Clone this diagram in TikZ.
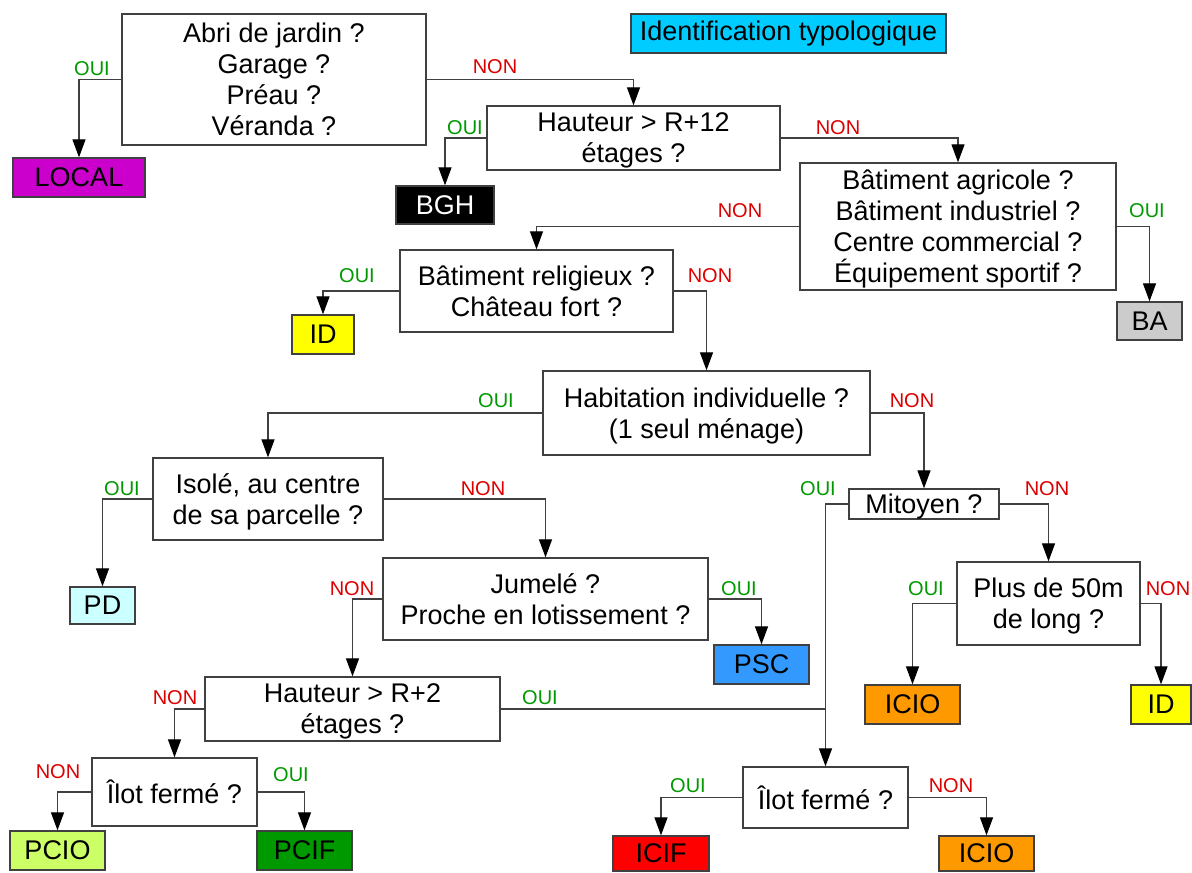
\documentclass[tikz,border=0pt]{standalone}
\usepackage{fontspec}
\setmainfont{Liberation Sans}
\usetikzlibrary{arrows.meta}
\definecolor{trait}{HTML}{404040}
\definecolor{vertoui}{HTML}{009900}
\definecolor{rougenon}{HTML}{DD0000}
\definecolor{magenta1}{HTML}{CC00CC}
\definecolor{cyan1}{HTML}{00CCFF}
\definecolor{gris1}{HTML}{CCCCCC}
\definecolor{jaune1}{HTML}{FFFF00}
\definecolor{bleuclair}{HTML}{CCFFFF}
\definecolor{bleu1}{HTML}{3399FF}
\definecolor{orange1}{HTML}{FF9900}
\definecolor{vertclair}{HTML}{CCFF66}
\definecolor{vertfonce}{HTML}{009900}
\definecolor{rouge1}{HTML}{FF0000}

\begin{document}
\begin{tikzpicture}[x=0.5pt,y=-0.5pt]
			\tikzset{
			  TailleStyle/.style 2 args = { minimum width = #1*0.5pt, minimum height = #2*0.5pt },
			  QuestionStyle/.style = { draw = trait, line width = 0.65pt, fill = white,
			                           align = center, inner sep = 0pt, text depth = 0pt,
			                           font = \fontsize{13.5}{15.5}\selectfont },
			  FeuilleStyle/.style = { draw = trait, line width = 0.65pt, inner sep = 0pt,
			                          font = \fontsize{13.5}{15.5}\selectfont },
			  OuiStyle/.style = { text = vertoui, inner sep = 0pt, font = \fontsize{10}{12}\selectfont },
			  NonStyle/.style = { text = rougenon, inner sep = 0pt, font = \fontsize{10}{12}\selectfont },
			  TraitStyle/.style = { draw = trait, line width = 0.6pt },
			  FlecheStyle/.style = { TraitStyle, -{Triangle[width=6.5pt,length=9pt,black]} } }
			\useasboundingbox (0,0) rectangle (1192,872);
			% questions
			\node[QuestionStyle, TailleStyle={304}{131}] (abri) at (274,79.5)
			  {Abri de jardin ?\\Garage ?\\Préau ?\\Véranda ?};
			\node[FeuilleStyle, TailleStyle={315}{39}, fill = cyan1] (titre) at (788.5,33.5)
			  {Identification typologique};
			\node[QuestionStyle, TailleStyle={293}{64}] (hauteur) at (633.5,138)
			  {Hauteur > R+12\\étages ?};
			\node[QuestionStyle, TailleStyle={316}{127}] (agricole) at (958,226.5)
			  {Bâtiment agricole ?\\Bâtiment industriel ?\\Centre commercial ?\\Équipement sportif ?};
			\node[QuestionStyle, TailleStyle={273}{82}] (religieux) at (536.5,291)
			  {Bâtiment religieux ?\\Château fort ?};
			\node[QuestionStyle, TailleStyle={327}{84}] (habitation) at (706.5,413)
			  {Habitation individuelle ?\\(1 seul ménage)};
			\node[QuestionStyle, TailleStyle={230}{82}] (isole) at (268,499)
			  {Isolé, au centre\\de sa parcelle ?};
			\node[QuestionStyle, TailleStyle={150}{30}] (mitoyen) at (924,504) {Mitoyen ?};
			\node[QuestionStyle, TailleStyle={325}{82}] (jumele) at (545.5,599)
			  {Jumelé ?\\Proche en lotissement ?};
			\node[QuestionStyle, TailleStyle={183}{83}] (long) at (1048.5,603.5)
			  {Plus de 50m\\de long ?};
			\node[QuestionStyle, TailleStyle={295}{64}] (hauteurb) at (352.5,709)
			  {Hauteur > R+2\\étages ?};
			\node[QuestionStyle, TailleStyle={165}{68}] (ilot) at (174.5,792) {Îlot fermé ?};
			\node[QuestionStyle, TailleStyle={165}{61}] (ilotb) at (825.5,797.5) {Îlot fermé ?};
			% types
			\node[FeuilleStyle, TailleStyle={132}{39}, fill = magenta1] (local) at (79,177.5) {LOCAL};
			\node[FeuilleStyle, TailleStyle={98}{38}, fill = black, text = white] (bgh) at (445,205) {BGH};
			\node[FeuilleStyle, TailleStyle={65}{38}, fill = gris1] (ba) at (1149.5,321) {BA};
			\node[FeuilleStyle, TailleStyle={62}{39}, fill = jaune1] (id) at (323,334.5) {ID};
			\node[FeuilleStyle, TailleStyle={65}{37}, fill = bleuclair] (pd) at (102.5,605.5) {PD};
			\node[FeuilleStyle, TailleStyle={95}{39}, fill = bleu1] (psc) at (761.5,664.5) {PSC};
			\node[FeuilleStyle, TailleStyle={95}{39}, fill = orange1] (icio) at (912.5,704.5) {ICIO};
			\node[FeuilleStyle, TailleStyle={60}{39}, fill = jaune1] (idb) at (1161,704.5) {ID};
			\node[FeuilleStyle, TailleStyle={95}{39}, fill = vertclair] (pcio) at (57.5,850.5) {PCIO};
			\node[FeuilleStyle, TailleStyle={95}{39}, fill = vertfonce] (pcif) at (304.5,850.5) {PCIF};
			\node[FeuilleStyle, TailleStyle={96}{35}, fill = rouge1] (icif) at (661,853.5) {ICIF};
			\node[FeuilleStyle, TailleStyle={95}{35}, fill = orange1] (iciob) at (986.5,853.5) {ICIO};
			% liens
			\draw[FlecheStyle] (abri.west) -| (local.north);
			\draw[FlecheStyle] (abri.east) -| (hauteur.north);
			\draw[FlecheStyle] (hauteur.west) -| (bgh.north);
			\draw[FlecheStyle] (hauteur.east) -| (agricole.north);
			\draw[FlecheStyle] (agricole.east) -| (ba.north);
			\draw[FlecheStyle] (agricole.west) -| (religieux.north);
			\draw[FlecheStyle] (religieux.west) -| (id.north);
			\draw[FlecheStyle] (religieux.east) -| (habitation.north);
			\draw[FlecheStyle] (habitation.west) -| (isole.north);
			\draw[FlecheStyle] (habitation.east) -| (mitoyen.north);
			\draw[FlecheStyle] (isole.west) -| (pd.north);
			\draw[FlecheStyle] (isole.east) -| (jumele.north);
			\draw[FlecheStyle] (jumele.east) -| (psc.north);
			\draw[FlecheStyle] (jumele.west) -| (hauteurb.north);
			\draw[FlecheStyle] (mitoyen.west) -| (ilotb.north);
			\draw[FlecheStyle] (mitoyen.east) -| (long.north);
			\draw[FlecheStyle] (long.west) -| (icio.north);
			\draw[FlecheStyle] (long.east) -| (idb.north);
			\coordinate (jonction) at (ilotb.north |- hauteurb.east);
			\draw[TraitStyle] (hauteurb.east) -- (jonction);
			\draw[FlecheStyle] (hauteurb.west) -| (ilot.north);
			\draw[FlecheStyle] (ilot.west) -| (pcio.north);
			\draw[FlecheStyle] (ilot.east) -| (pcif.north);
			\draw[FlecheStyle] (ilotb.west) -| (icif.north);
			\draw[FlecheStyle] (ilotb.east) -| (iciob.north);
			% OUI / NON
			\node[OuiStyle] (oui-abri) at (92,69) {OUI};
			\node[NonStyle] (non-abri) at (495,67) {NON};
			\node[OuiStyle] (oui-hauteur) at (465,128) {OUI};
			\node[NonStyle] (non-hauteur) at (838,128) {NON};
			\node[OuiStyle] (oui-agricole) at (1147,211) {OUI};
			\node[NonStyle] (non-agricole) at (740,211) {NON};
			\node[OuiStyle] (oui-religieux) at (357,276) {OUI};
			\node[NonStyle] (non-religieux) at (710,276) {NON};
			\node[OuiStyle] (oui-habitation) at (496,401) {OUI};
			\node[NonStyle] (non-habitation) at (912,401) {NON};
			\node[OuiStyle] (oui-mitoyen) at (818,489) {OUI};
			\node[NonStyle] (non-mitoyen) at (1047,489) {NON};
			\node[OuiStyle] (oui-isole) at (122,489) {OUI};
			\node[NonStyle] (non-isole) at (483,489) {NON};
			\node[OuiStyle] (oui-jumele) at (739,589) {OUI};
			\node[NonStyle] (non-jumele) at (352,589) {NON};
			\node[OuiStyle] (oui-long) at (926,589) {OUI};
			\node[NonStyle] (non-long) at (1168,589) {NON};
			\node[OuiStyle] (oui-hauteurb) at (540,698) {OUI};
			\node[NonStyle] (non-hauteurb) at (175,698) {NON};
			\node[NonStyle] (non-ilot) at (58,772) {NON};
			\node[OuiStyle] (oui-ilot) at (291,775) {OUI};
			\node[OuiStyle] (oui-ilotb) at (688,786) {OUI};
			\node[NonStyle] (non-ilotb) at (951,786) {NON};
		\end{tikzpicture}
\end{document}
